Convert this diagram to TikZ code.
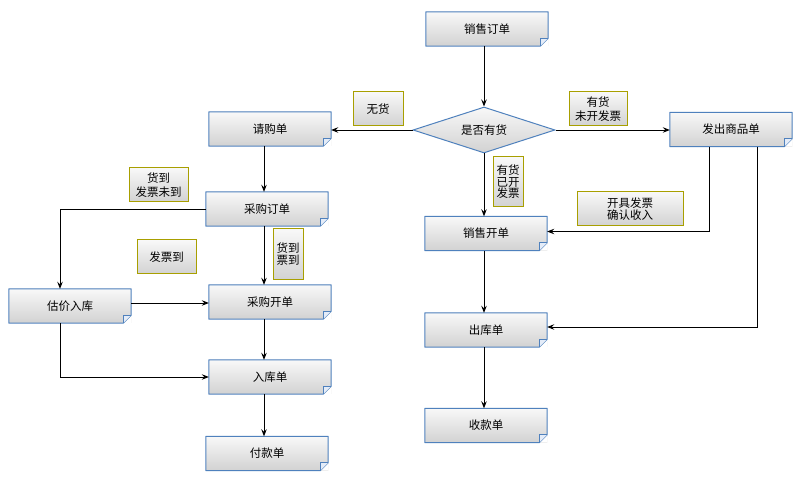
\documentclass[tikz,border=0pt]{standalone}
\usepackage{fontspec}
\setmainfont{Noto Sans CJK SC}
\usetikzlibrary{shapes.geometric,arrows.meta}
\definecolor{boxblue}{HTML}{4F81BD}
\definecolor{labolive}{HTML}{A89F00}
\definecolor{gtop}{HTML}{F8F8F8}
\definecolor{gbot}{HTML}{D2D2D2}
\definecolor{foldc}{HTML}{E4ECF8}
\tikzset{
  docbox/.style={inner sep=0pt, minimum width=122pt, minimum height=34pt,
    top color=gtop, bottom color=gbot, font=\fontsize{11.5}{13}\selectfont},
  boxline/.style={draw=boxblue, line width=1pt, line join=round},
  labbox/.style={inner sep=0pt, top color=gtop, bottom color=gbot, draw=labolive,
    line width=1pt, align=center},
  decbox/.style={diamond, aspect=3.087, inner sep=0pt, minimum width=142pt, minimum height=46pt,
    top color=gtop, bottom color=gbot, draw=boxblue, line width=1pt,
    font=\fontsize{11.5}{13}\selectfont},
  arr/.style={draw=black, line width=0.9pt, -{Stealth[length=7pt,width=5.5pt,inset=2.5pt]}},
}
\newcommand\mkdoc[4]{%
  \node[docbox] (#1) at (#2,#3) {#4};
  \fill[white] ([xshift=-8pt]#1.south east) -- (#1.south east) -- ([yshift=8pt]#1.south east) -- cycle;
  \draw[boxline] (#1.north west) -- (#1.north east) -- ([yshift=8pt]#1.south east)
     -- ([xshift=-8pt]#1.south east) -- (#1.south west) -- cycle;
  \draw[boxline, fill=foldc] ([yshift=8pt]#1.south east) -- ([xshift=-8pt,yshift=8pt]#1.south east)
     -- ([xshift=-8pt]#1.south east);
}
\begin{document}
\begin{tikzpicture}[x=1pt,y=-1pt]
\fill[white] (0,0) rectangle (801,478);
\useasboundingbox (0,0) rectangle (801,478);

% documents
\mkdoc{so}{487}{29}{销售订单}
\node[decbox] (dec) at (484,130) {是否有货};
\mkdoc{qg}{270}{129}{请购单}
\mkdoc{fc}{731}{129.5}{发出商品单}
\mkdoc{xk}{486}{233.5}{销售开单}
\mkdoc{ck}{486}{330}{出库单}
\mkdoc{sk}{486}{425.5}{收款单}
\mkdoc{cg}{267}{209}{采购订单}
\mkdoc{gj}{70}{306}{估价入库}
\mkdoc{kd}{270}{302}{采购开单}
\mkdoc{rk}{270}{377}{入库单}
\mkdoc{fk}{267}{453.5}{付款单}

% labels
\node[labbox, minimum width=50pt, minimum height=34pt, font=\fontsize{11.5}{14}\selectfont] (l1) at (378,109) {无货};
\node[labbox, minimum width=58pt, minimum height=34pt, font=\fontsize{11.5}{14.5}\selectfont] (l2) at (598,109) {有货\\未开发票};
\node[labbox, minimum width=30pt, minimum height=50pt, font=\fontsize{11.5}{11.5}\selectfont] (l3) at (508,182) {有货\\已开\\发票};
\node[labbox, minimum width=106pt, minimum height=34pt, font=\fontsize{11.5}{12}\selectfont] (l4) at (630,209) {开具发票\\确认收入};
\node[labbox, minimum width=59pt, minimum height=34pt, font=\fontsize{11.5}{14.5}\selectfont] (l5) at (158.5,185) {货到\\发票未到};
\node[labbox, minimum width=59pt, minimum height=34pt, font=\fontsize{11.5}{14}\selectfont] (l6) at (166.5,257) {发票到};
\node[labbox, minimum width=30pt, minimum height=51pt, font=\fontsize{11.5}{12}\selectfont] (l7) at (288,254.5) {货到\\票到};

% helper coordinates
\coordinate (lc) at (264,0);
\coordinate (lx) at (60,0);
\coordinate (f1) at (709,0);
\coordinate (f2) at (757,0);

% connectors (sales side)
\draw[arr] (dec.north |- so.south) -- (dec.north);
\draw[arr] (dec.west) -- (dec.west -| qg.east);
\draw[arr] (dec.east) -- (dec.east -| fc.west);
\draw[arr] (dec.south) -- (dec.south |- xk.north);
\draw[arr] (f1 |- fc.south) |- ([yshift=2pt]xk.east);
\draw[arr] (f2 |- fc.south) |- ([yshift=3pt]ck.east);
\draw[arr] (dec.south |- xk.south) -- (dec.south |- ck.north);
\draw[arr] (dec.south |- ck.south) -- (dec.south |- sk.north);

% connectors (purchase side)
\draw[arr] (lc |- qg.south) -- (lc |- cg.north);
\draw[arr] (cg.west) -| (lx |- gj.north);
\draw[arr] (lc |- cg.south) -- (lc |- kd.north);
\draw[arr] ([yshift=3pt]gj.east) -- ([yshift=3pt]gj.east -| kd.west);
\draw[arr] (lx |- gj.south) |- (rk.west);
\draw[arr] (lc |- kd.south) -- (lc |- rk.north);
\draw[arr] (lc |- rk.south) -- (lc |- fk.north);
\end{tikzpicture}
\end{document}
